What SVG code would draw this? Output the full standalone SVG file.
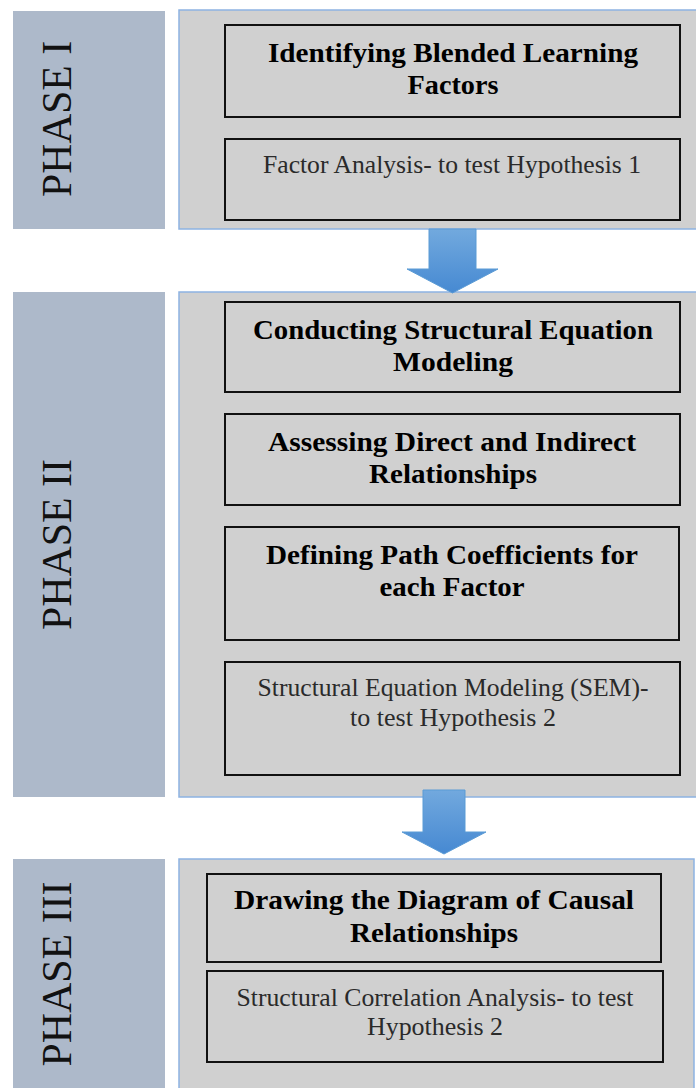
<svg xmlns="http://www.w3.org/2000/svg" width="696" height="1088" viewBox="0 0 696 1088">
<style>
.lab{fill:#adb9ca}
.panel{fill:#d0d0d0;stroke:#8db3e2;stroke-width:1.5}
.box{fill:#d0d0d0;stroke:#111;stroke-width:2}
.b{font-family:"Liberation Serif",serif;font-weight:bold;font-size:28px;fill:#000;text-anchor:middle}
.r{font-family:"Liberation Serif",serif;font-size:25px;fill:#2a2a2a;text-anchor:middle}
.ph{font-family:"Liberation Serif",serif;font-size:43px;fill:#111;text-anchor:middle}
.arr{fill:url(#ag);stroke:#5b9bd5;stroke-width:1}
</style>
<defs>
<linearGradient id="ag" x1="0" y1="0" x2="0" y2="1">
<stop offset="0" stop-color="#72a9de"/>
<stop offset="1" stop-color="#4689d2"/>
</linearGradient>
</defs>
<g id="phase1">
<rect class="lab" x="13" y="11" width="152" height="218"/>
<text class="ph" transform="translate(71,119) rotate(-90)" textLength="156" lengthAdjust="spacingAndGlyphs">PHASE I</text>
<rect class="panel" x="179" y="10" width="520" height="219"/>
</g>
<g id="n1">
<rect class="box" x="225" y="25" width="455" height="92"/>
<text class="b" x="453" y="62" textLength="370" lengthAdjust="spacingAndGlyphs">Identifying Blended Learning</text>
<text class="b" x="453" y="94" textLength="91" lengthAdjust="spacingAndGlyphs">Factors</text>
</g>
<g id="n2">
<rect class="box" x="225" y="139" width="455" height="81"/>
<text class="r" x="452" y="173" textLength="378" lengthAdjust="spacingAndGlyphs">Factor Analysis- to test Hypothesis 1</text>
</g>
<g id="phase2">
<rect class="lab" x="13" y="292" width="152" height="505"/>
<text class="ph" transform="translate(71,544.5) rotate(-90)" textLength="171" lengthAdjust="spacingAndGlyphs">PHASE II</text>
<rect class="panel" x="179" y="292" width="520" height="505"/>
</g>
<g id="n3">
<rect class="box" x="225" y="302" width="455" height="90"/>
<text class="b" x="453" y="339" textLength="400" lengthAdjust="spacingAndGlyphs">Conducting Structural Equation</text>
<text class="b" x="453" y="371" textLength="120" lengthAdjust="spacingAndGlyphs">Modeling</text>
</g>
<g id="n4">
<rect class="box" x="225" y="414" width="455" height="91"/>
<text class="b" x="452" y="451" textLength="368" lengthAdjust="spacingAndGlyphs">Assessing Direct and Indirect</text>
<text class="b" x="453" y="483" textLength="168" lengthAdjust="spacingAndGlyphs">Relationships</text>
</g>
<g id="n5">
<rect class="box" x="225" y="527" width="454" height="113"/>
<text class="b" x="452" y="564" textLength="372" lengthAdjust="spacingAndGlyphs">Defining Path Coefficients for</text>
<text class="b" x="452" y="596" textLength="145" lengthAdjust="spacingAndGlyphs">each Factor</text>
</g>
<g id="n6">
<rect class="box" x="225" y="662" width="455" height="113"/>
<text class="r" x="453" y="696" textLength="391" lengthAdjust="spacingAndGlyphs">Structural Equation Modeling (SEM)-</text>
<text class="r" x="453" y="726" textLength="206" lengthAdjust="spacingAndGlyphs">to test Hypothesis 2</text>
</g>
<g id="phase3">
<rect class="lab" x="13" y="859" width="152" height="235"/>
<text class="ph" transform="translate(71,974) rotate(-90)" textLength="185" lengthAdjust="spacingAndGlyphs">PHASE III</text>
<rect class="panel" x="179" y="859" width="515" height="240"/>
</g>
<g id="n7">
<rect class="box" x="207" y="874" width="454" height="88"/>
<text class="b" x="434" y="909" textLength="400" lengthAdjust="spacingAndGlyphs">Drawing the Diagram of Causal</text>
<text class="b" x="434" y="942" textLength="168" lengthAdjust="spacingAndGlyphs">Relationships</text>
</g>
<g id="n8">
<rect class="box" x="207" y="971" width="456" height="91"/>
<text class="r" x="435" y="1006" textLength="397" lengthAdjust="spacingAndGlyphs">Structural Correlation Analysis- to test</text>
<text class="r" x="435" y="1035" textLength="136" lengthAdjust="spacingAndGlyphs">Hypothesis 2</text>
</g>
<g id="connectors">
<polygon class="arr" points="429,229 476,229 476,269 498,269 452.5,293 407,269 429,269"/>
<polygon class="arr" points="423,790 465,790 465,832 486,832 444,854 402,832 423,832"/>
</g>
</svg>
